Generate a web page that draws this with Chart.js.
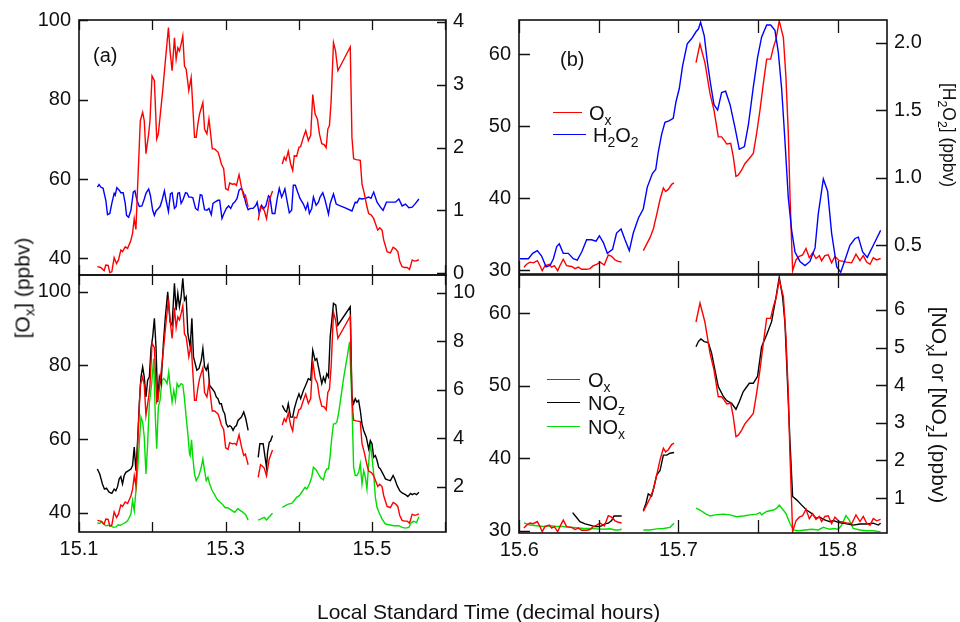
<!DOCTYPE html>
<html><head><meta charset="utf-8">
<script src="https://cdn.jsdelivr.net/npm/chart.js@4.4.1/dist/chart.umd.min.js"></script>
<style>
html,body{margin:0;padding:0;background:#fff;}
#wrap{position:relative;width:960px;height:622px;overflow:hidden;font-family:"Liberation Sans",Arial,sans-serif;color:#111;}
canvas{position:absolute;left:0;top:0;}
.t{position:absolute;white-space:nowrap;line-height:1;}
sub{font-size:0.7em;vertical-align:-0.35em;line-height:0;}
.lg{position:absolute;height:0;border-top:1.6px solid;}
</style></head><body>
<div id="wrap">
<canvas id="cTL" width="960" height="622"></canvas>
<canvas id="cBL" width="960" height="622"></canvas>
<canvas id="cTR" width="960" height="622"></canvas>
<canvas id="cBR" width="960" height="622"></canvas>

<div class="t" style="left:93px;top:55px;transform:translateY(-50%);font-size:20px">(a)</div>
<div class="t" style="left:560px;top:59px;transform:translateY(-50%);font-size:20px">(b)</div>

<div class="lg" style="left:553px;top:112px;width:29px;border-color:#ff0000"></div>
<div class="lg" style="left:553px;top:134px;width:33px;border-color:#0000ff"></div>
<div class="t" style="left:589px;top:113px;transform:translateY(-50%);font-size:20px">O<sub>x</sub></div>
<div class="t" style="left:593px;top:135px;transform:translateY(-50%);font-size:20px">H<sub>2</sub>O<sub>2</sub></div>

<div class="lg" style="left:547px;top:379px;width:33px;border-color:#ff0000"></div>
<div class="lg" style="left:547px;top:402px;width:33px;border-color:#000000"></div>
<div class="lg" style="left:547px;top:426px;width:33px;border-color:#00dd00"></div>
<div class="t" style="left:588px;top:380px;transform:translateY(-50%);font-size:20px">O<sub>x</sub></div>
<div class="t" style="left:588px;top:403px;transform:translateY(-50%);font-size:20px">NO<sub>z</sub></div>
<div class="t" style="left:588px;top:427px;transform:translateY(-50%);font-size:20px">NO<sub>x</sub></div>

<div class="t" style="left:22px;top:288px;transform:translate(-50%,-50%) rotate(-90deg);font-size:21px">[O<sub>x</sub>] (ppbv)</div>
<div class="t" style="left:948px;top:135px;transform:translate(-50%,-50%) rotate(90deg);font-size:17.5px">[H<sub>2</sub>O<sub>2</sub>] (ppbv)</div>
<div class="t" style="left:939px;top:405px;transform:translate(-50%,-50%) rotate(90deg);font-size:21px">[NO<sub>x</sub>] or [NO<sub>z</sub>] (ppbv)</div>
<div class="t" style="left:317px;top:611px;transform:translateY(-50%);font-size:21px">Local Standard Time (decimal hours)</div>
</div>
<script>
// ---------- tick values / labels ----------
const xTicksLeft = [15.1, 15.2, 15.3, 15.4, 15.5, 15.6];
const xLabelsLeft = ['15.1', '', '15.3', '', '15.5', ''];
const xTicksRight = [15.6, 15.65, 15.7, 15.75, 15.8];
const xLabelsRight = ['15.6', '', '15.7', '', '15.8'];
const tlLeftTicks = [40, 60, 80, 100];
const tlRightTicks = [0, 1, 2, 3, 4];
const blLeftTicks = [40, 60, 80, 100];
const blRightTicks = [2, 4, 6, 8, 10];
const trLeftTicks = [30, 40, 50, 60];
const trRightTicks = [0.5, 1.0, 1.5, 2.0];
const trRightLabels = ['0.5', '1.0', '1.5', '2.0'];
const brLeftTicks = [30, 40, 50, 60];
const brRightTicks = [1, 2, 3, 4, 5, 6];

// ---------- left panels: Ox (ppbv) ----------
const oxLeftT = [15.1251,15.1297,15.1343,15.1366,15.1398,15.1421,15.1448,15.1480,15.1512,15.1539,15.1571,15.1594,15.1631,15.1663,15.1695,15.1709,15.1731,15.1754,15.1777,15.1800,15.1837,15.1869,15.1891,15.1914,15.1951,15.1969,15.1997,15.2029,15.2061,15.2083,15.2106,15.2143,15.2179,15.2221,15.2243,15.2271,15.2303,15.2326,15.2349,15.2371,15.2394,15.2417,15.2440,15.2463,15.2499,15.2531,15.2554,15.2577,15.2600,15.2623,15.2646,15.2691,15.2714,15.2746,15.2774,15.2792,15.2819,15.2851,15.2897,15.2920,15.2943,15.2975,15.3002,15.3034,15.3057,15.3094,15.3126,15.3149,15.3185,15.3217,15.3249,15.3272,15.3309,
 15.338,
 15.3446,15.3478,15.3505,15.3528,15.3560,15.3597,15.3642,
 15.371,
 15.3775,15.3802,15.3825,15.3857,15.3889,15.3917,15.3939,15.3971,15.4003,15.4026,15.4063,15.4095,15.4131,15.4163,15.4191,15.4223,15.4255,15.4282,15.4314,15.4346,15.4374,15.4397,15.4419,15.4442,15.4474,15.4502,15.4534,15.4703,15.4726,15.4749,15.4785,15.4840,15.4863,15.4895,15.4931,15.4954,15.4991,15.5023,15.5046,15.5078,15.5105,15.5137,15.5160,15.5206,15.5251,15.5288,15.5320,15.5352,15.5379,15.5411,15.5443,15.5480,15.5512,15.5549,15.5580,15.5608,15.5640];
const oxLeftV = [37.9,37.7,36.9,38.3,38.2,36.4,36.6,40.2,38.7,39.6,42.1,41.7,42.9,42.5,43.9,44.6,46.3,50.0,47.3,58.0,74.7,76.8,74.7,66.4,71.4,74.7,86.0,84.8,70.1,71.4,75.6,82.3,89.8,98.2,92.3,87.3,95.6,90.2,93.1,92.3,94.0,96.1,88.5,87.7,82.3,85.6,78.1,70.5,70.5,73.9,76.4,79.3,72.6,71.4,75.1,72.2,67.6,67.6,66.8,65.5,63.8,62.6,57.6,57.2,59.0,58.7,58.8,58.4,61.1,58.0,55.5,55.9,53.0,
 null,
 49.6,53.0,52.6,52.1,50.0,54.6,57.0,
 null,
 63.8,65.5,64.7,67.0,63.8,62.2,65.9,65.7,68.0,68.2,70.5,72.2,69.7,71.0,81.3,76.4,75.1,71.4,68.9,68.7,67.9,72.6,73.5,79.7,94.4,92.3,87.3,93.3,70.5,65.1,64.9,64.7,58.8,56.3,53.0,51.3,50.9,50.0,48.8,47.1,47.7,47.1,44.6,41.7,41.4,42.8,42.4,41.7,39.2,37.9,37.7,37.7,37.2,39.6,39.3,39.4,39.7];

// ---------- left panel (a): H2O2 (ppbv) ----------
const h2o2LeftT = [15.1251,15.1274,15.1297,15.1329,15.1366,15.1389,15.1421,15.1448,15.1480,15.1494,15.1517,15.1549,15.1571,15.1603,15.1631,15.1649,15.1677,15.1709,15.1741,15.1763,15.1791,15.1823,15.1859,15.1891,15.1914,15.1951,15.1974,15.2006,15.2029,15.2051,15.2083,15.2106,15.2134,15.2166,15.2189,15.2221,15.2248,15.2271,15.2303,15.2326,15.2349,15.2371,15.2394,15.2417,15.2454,15.2477,15.2499,15.2531,15.2554,15.2591,15.2623,15.2655,15.2678,15.2714,15.2746,15.2774,15.2806,15.2829,15.2865,15.2897,15.2920,15.2952,15.2979,15.3011,15.3043,15.3071,15.3103,15.3126,15.3158,15.3185,15.3217,15.3249,15.3277,15.3309,15.3341,15.3377,15.3414,15.3432,15.3459,15.3491,15.3523,15.3551,15.3587,15.3606,15.3638,15.3674,15.3706,15.3734,15.3766,15.3789,15.3811,15.3843,15.3871,15.3903,15.3926,15.3953,15.3985,15.4017,15.4063,15.4095,15.4122,15.4145,15.4177,15.4200,15.4237,15.4269,15.4291,15.4328,15.4360,15.4406,15.4429,15.4474,15.4511,15.4566,15.4634,15.4726,15.4771,15.4794,15.4826,15.4863,15.4909,15.4954,15.4986,15.5023,15.5069,15.5114,15.5151,15.5197,15.5251,15.5320,15.5366,15.5411,15.5457,15.5503,15.5549,15.5594,15.5640];
const h2o2LeftV = [1.37,1.41,1.37,1.35,1.16,0.93,0.95,1.11,1.27,1.24,1.36,1.32,1.28,1.28,1.11,0.92,0.89,1.00,1.29,1.31,1.16,1.06,1.07,1.18,1.27,1.34,1.24,1.00,0.92,0.99,1.03,1.06,1.16,1.31,1.16,0.98,1.26,1.28,1.03,1.06,1.27,1.28,1.11,1.16,1.28,1.27,1.21,1.21,1.20,1.03,1.00,1.25,1.24,1.01,1.00,1.03,0.93,1.11,1.14,1.16,1.16,0.87,0.95,1.03,1.07,1.03,1.11,1.13,1.19,1.32,1.35,1.27,1.11,1.01,1.03,1.03,1.08,1.13,0.95,1.08,1.03,1.07,1.23,1.21,0.95,0.95,1.19,1.35,1.21,1.27,1.34,1.13,0.96,1.00,1.40,1.40,1.29,1.19,1.10,1.01,1.11,0.95,1.03,1.21,1.08,1.13,1.21,1.28,1.16,0.94,1.11,1.26,1.10,1.07,1.04,0.99,1.13,1.12,1.19,1.18,1.19,1.21,1.19,1.29,1.13,1.05,1.00,1.13,1.13,1.13,1.18,1.07,1.10,1.04,1.05,1.11,1.18];

// ---------- left panel (lower): NOz (ppbv) ----------
const nozLeftT = [15.1251,15.1283,15.1320,15.1347,15.1375,15.1411,15.1448,15.1480,15.1503,15.1526,15.1549,15.1571,15.1594,15.1617,15.1640,15.1677,15.1709,15.1731,15.1754,15.1777,15.1800,15.1823,15.1846,15.1869,15.1891,15.1914,15.1937,15.1960,15.1983,15.2006,15.2029,15.2051,15.2074,15.2097,15.2120,15.2152,15.2179,15.2211,15.2243,15.2271,15.2303,15.2326,15.2349,15.2371,15.2394,15.2417,15.2440,15.2463,15.2486,15.2518,15.2541,15.2563,15.2586,15.2609,15.2637,15.2669,15.2691,15.2714,15.2737,15.2760,15.2783,15.2819,15.2851,15.2874,15.2897,15.2920,15.2943,15.2966,15.2989,15.3011,15.3034,15.3057,15.3080,15.3103,15.3126,15.3149,15.3171,15.3194,15.3217,15.3249,15.3277,15.3309,
 15.338,
 15.3446,15.3469,15.3491,15.3514,15.3537,15.3560,15.3574,15.3597,15.3615,15.3642,
 15.371,
 15.3775,15.3811,15.3834,15.3857,15.3889,15.3917,15.3939,15.3971,15.4003,15.4026,15.4063,15.4095,15.4131,15.4163,15.4191,15.4223,15.4246,15.4282,15.4314,15.4337,15.4360,15.4383,15.4406,15.4429,15.4474,15.4506,15.4534,15.4703,15.4726,15.4749,15.4771,15.4794,15.4817,15.4840,15.4863,15.4886,15.4922,15.4954,15.4977,15.5000,15.5023,15.5046,15.5069,15.5091,15.5114,15.5151,15.5183,15.5215,15.5251,15.5288,15.5311,15.5343,15.5379,15.5411,15.5457,15.5489,15.5526,15.5549,15.5580,15.5608,15.5640];
const nozLeftV = [2.73,2.52,2.11,1.90,1.94,1.77,1.72,1.90,1.83,2.00,2.32,2.41,2.11,2.46,2.59,2.66,2.73,2.87,3.63,2.66,3.90,5.42,6.52,6.94,6.52,5.70,6.39,6.52,7.70,8.18,8.94,7.77,5.49,6.52,6.25,7.90,9.01,10.04,8.80,8.66,10.39,9.28,9.97,9.42,9.83,10.59,9.70,9.83,8.32,7.77,8.94,7.35,7.08,6.80,6.87,7.21,7.70,6.94,6.80,7.01,6.18,6.04,5.90,5.70,5.63,5.42,5.42,5.14,5.01,4.59,4.46,4.52,4.46,4.32,4.46,4.52,4.73,4.80,4.87,5.08,4.80,4.32,
 null,
 3.21,3.77,3.77,3.77,3.28,2.80,3.42,3.83,3.88,4.11,
 null,
 5.35,5.14,5.08,5.42,4.87,4.87,5.21,5.56,5.83,5.63,5.97,6.18,6.46,6.39,7.63,7.21,7.28,6.73,6.25,6.52,6.32,6.66,6.52,8.18,9.56,9.49,8.66,9.42,5.70,5.42,5.63,5.49,5.56,5.14,4.59,4.32,4.04,3.56,3.90,3.77,3.21,3.28,3.08,2.80,2.73,2.52,2.32,2.28,2.25,2.46,2.32,2.04,1.83,1.74,1.67,1.59,1.72,1.67,1.72,1.67,1.77];

// ---------- left panel (lower): NOx (ppbv) ----------
const noxLeftT = [15.1251,15.1283,15.1311,15.1334,15.1366,15.1402,15.1434,15.1466,15.1503,15.1535,15.1562,15.1594,15.1631,15.1663,15.1686,15.1709,15.1731,15.1754,15.1777,15.1800,15.1823,15.1846,15.1869,15.1891,15.1914,15.1937,15.1960,15.1992,15.2019,15.2042,15.2061,15.2083,15.2106,15.2134,15.2157,15.2179,15.2202,15.2225,15.2243,15.2271,15.2294,15.2317,15.2339,15.2362,15.2394,15.2417,15.2440,15.2463,15.2486,15.2509,15.2518,15.2536,15.2554,15.2577,15.2600,15.2637,15.2669,15.2691,15.2714,15.2737,15.2760,15.2783,15.2819,15.2851,15.2883,15.2920,15.2957,15.2993,15.3034,15.3080,15.3126,15.3149,15.3171,15.3194,15.3226,15.3249,15.3277,15.3309,
 15.338,
 15.3446,15.3478,15.3505,15.3528,15.3560,15.3597,15.3642,
 15.371,
 15.3775,15.3811,15.3857,15.3903,15.3935,15.3971,15.4008,15.4040,15.4086,15.4109,15.4145,15.4177,15.4200,15.4237,15.4269,15.4301,15.4337,15.4360,15.4383,15.4406,15.4429,15.4451,15.4474,15.4497,15.4520,15.4543,15.4566,15.4611,15.4657,15.4694,15.4726,15.4749,15.4771,15.4794,15.4817,15.4840,15.4863,15.4886,15.4909,15.4931,15.4954,15.4977,15.5000,15.5023,15.5046,15.5069,15.5105,15.5137,15.5183,15.5229,15.5297,15.5366,15.5411,15.5457,15.5503,15.5535,15.5571,15.5608,15.5640];
const noxLeftV = [0.50,0.48,0.57,0.46,0.39,0.41,0.37,0.33,0.33,0.43,0.40,0.46,0.52,0.59,0.73,0.87,1.42,1.01,1.83,2.66,3.77,4.87,4.66,4.04,2.52,3.77,5.42,6.25,7.28,4.87,3.56,5.28,5.56,6.39,6.46,6.39,6.25,6.73,6.18,5.49,5.97,5.56,6.25,6.11,6.25,6.21,5.63,4.87,4.18,3.35,3.28,3.93,3.21,2.52,2.25,2.46,2.80,3.14,2.66,2.25,2.39,2.11,1.83,1.67,1.49,1.38,1.28,1.14,1.12,1.03,0.94,1.03,1.10,1.03,0.97,0.91,0.83,0.62,
 null,
 0.62,0.66,0.70,0.73,0.63,0.76,0.90,
 null,
 1.14,1.21,1.28,1.31,1.42,1.56,1.63,1.77,1.97,1.90,2.11,2.39,2.80,2.69,2.52,2.36,2.28,2.59,2.73,2.73,3.28,4.04,4.59,4.59,4.66,5.01,5.49,6.46,7.28,7.97,5.42,2.80,2.46,2.46,2.59,2.94,2.11,2.66,2.39,1.90,2.94,3.83,3.21,2.52,1.56,1.14,0.87,0.66,0.46,0.43,0.39,0.39,0.32,0.29,0.32,0.52,0.57,0.52,0.76];

// ---------- right panels: Ox (ppbv) ----------
const oxRightT = [15.6029,15.6046,15.6067,15.6088,15.6113,15.6130,15.6144,15.6161,15.6188,15.6203,15.6220,15.6241,15.6255,15.6276,15.6297,15.6329,15.6350,15.6371,15.6392,15.6423,15.6444,15.6465,15.6486,15.6507,15.6534,15.6559,15.6580,15.6601,15.6622,15.6643,
 15.670,
 15.6779,15.6800,15.6821,15.6842,15.6863,15.6884,15.6905,15.6919,15.6936,15.6957,15.6972,
 15.704,
 15.7110,15.7135,15.7166,15.7198,15.7223,15.7250,15.7271,15.7288,15.7303,15.7328,15.7344,15.7361,15.7376,15.7397,15.7418,15.7445,15.7470,15.7491,15.7512,15.7533,15.7554,15.7579,15.7596,15.7613,15.7633,15.7659,15.7675,15.7690,15.7700,15.7717,15.7738,15.7759,15.7780,15.7801,15.7822,15.7843,15.7864,15.7885,15.7899,15.7920,15.7941,15.7962,15.7983,15.8010,15.8036,15.8056,15.8088,15.8115,15.8140,15.8161,15.8182,15.8203,15.8224,15.8245,15.8270];
const oxRightV = [30.4,30.8,31.1,31.0,31.3,30.6,29.9,30.6,30.8,30.4,30.6,29.9,30.6,31.5,30.6,30.5,30.2,30.4,30.1,30.1,30.2,30.6,30.8,31.1,30.7,32.1,31.9,31.4,31.2,31.1,
 null,
 32.7,33.6,34.5,35.7,37.7,39.8,41.4,40.9,41.2,41.9,42.1,
 null,
 58.8,61.4,58.8,54.5,52.2,48.5,48.5,48.0,47.5,47.6,45.8,43.0,43.2,43.9,44.8,45.5,46.2,49.0,52.2,55.9,59.3,59.3,60.9,62.1,64.6,62.3,56.8,49.0,40.7,29.9,31.4,31.9,32.1,33.0,31.7,32.4,31.6,32.0,31.3,32.0,32.1,31.0,31.9,31.3,31.2,31.1,31.0,32.2,31.3,32.0,31.1,30.8,31.7,31.4,31.6];

// ---------- right panel (b): H2O2 (ppbv) ----------
const h2o2RightT = [15.6004,15.6057,15.6084,15.6113,15.6140,15.6168,15.6193,15.6214,15.6235,15.6251,15.6276,15.6308,15.6339,15.6364,15.6392,15.6423,15.6454,15.6482,15.6503,15.6528,15.6553,15.6586,15.6611,15.6639,15.6664,15.6691,15.6716,15.6748,15.6779,15.6804,15.6836,15.6857,15.6873,15.6894,15.6915,15.6940,15.6967,15.6984,15.7005,15.7026,15.7055,15.7083,15.7110,15.7125,15.7139,15.7162,15.7181,15.7202,15.7223,15.7246,15.7271,15.7296,15.7324,15.7355,15.7382,15.7414,15.7439,15.7470,15.7497,15.7522,15.7554,15.7579,15.7606,15.7627,15.7648,15.7669,15.7690,15.7711,15.7732,15.7763,15.7795,15.7826,15.7858,15.7878,15.7910,15.7937,15.7962,15.7994,15.8019,15.8046,15.8077,15.8109,15.8130,15.8157,15.8186,15.8224,15.8270];
const h2o2RightV = [0.40,0.40,0.44,0.46,0.42,0.34,0.35,0.40,0.49,0.51,0.44,0.44,0.40,0.39,0.45,0.54,0.54,0.53,0.57,0.52,0.44,0.47,0.59,0.62,0.54,0.46,0.59,0.70,0.77,0.93,1.03,1.06,1.19,1.32,1.41,1.42,1.44,1.56,1.66,1.83,1.99,2.03,2.08,2.10,2.15,2.05,1.86,1.69,1.54,1.50,1.63,1.64,1.54,1.37,1.21,1.23,1.39,1.67,1.89,2.04,2.13,2.13,2.09,1.93,1.66,1.27,0.85,0.61,0.45,0.38,0.35,0.38,0.48,0.73,0.99,0.90,0.59,0.34,0.30,0.39,0.50,0.55,0.56,0.45,0.41,0.50,0.61];

// ---------- right panel (lower): NOz (ppbv) ----------
const nozRightT = [15.6335,15.6356,15.6381,15.6413,15.6444,15.6475,15.6496,15.6517,15.6538,15.6559,15.6580,15.6595,15.6622,15.6643,
 15.670,
 15.6779,15.6796,15.6810,15.6831,15.6846,15.6863,15.6884,15.6905,15.6926,15.6947,15.6972,
 15.704,
 15.7110,15.7125,15.7141,15.7162,15.7187,15.7208,15.7229,15.7250,15.7282,15.7303,15.7334,15.7361,15.7382,15.7407,15.7445,15.7470,15.7497,15.7522,15.7554,15.7585,15.7613,15.7633,15.7654,15.7669,15.7686,15.7700,15.7717,15.7742,15.7774,15.7805,15.7837,15.7864,15.7889,15.7910,15.7931,15.7952,15.7973,15.8004,15.8036,15.8056,15.8098,15.8140,15.8182,15.8224,15.8255,15.8270];
const nozRightV = [0.61,0.50,0.37,0.31,0.28,0.24,0.24,0.26,0.31,0.33,0.40,0.52,0.52,0.52,
 null,
 0.66,0.86,1.11,1.05,1.30,1.61,1.73,2.14,2.14,2.19,2.21,
 null,
 5.02,5.16,5.23,5.16,5.13,4.85,4.40,3.96,3.70,3.59,3.52,3.36,3.56,3.83,4.05,4.05,4.24,5.02,5.34,5.69,6.35,6.87,6.35,5.65,3.96,2.54,1.04,0.95,0.81,0.68,0.59,0.46,0.49,0.43,0.40,0.37,0.40,0.35,0.33,0.31,0.28,0.31,0.31,0.33,0.28,0.33];

// ---------- right panel (lower): NOx (ppbv) ----------
const noxRightT = [15.6029,15.6067,15.6109,15.6151,15.6193,15.6235,15.6276,15.6318,15.6360,15.6402,15.6444,15.6486,15.6528,15.6570,15.6601,15.6622,15.6643,
 15.670,
 15.6779,15.6821,15.6863,15.6905,15.6947,15.6972,
 15.704,
 15.7110,15.7135,15.7166,15.7198,15.7229,15.7282,15.7324,15.7365,15.7407,15.7449,15.7491,15.7512,15.7522,15.7554,15.7596,15.7617,15.7633,15.7654,15.7675,15.7700,15.7721,15.7753,15.7795,15.7837,15.7878,15.7910,15.7931,15.7952,15.7973,15.8004,15.8025,15.8052,15.8073,15.8098,15.8140,15.8182,15.8224,15.8270];
const noxRightV = [0.34,0.28,0.26,0.24,0.26,0.24,0.24,0.22,0.21,0.19,0.19,0.18,0.17,0.18,0.15,0.15,0.17,
 null,
 0.15,0.15,0.18,0.19,0.22,0.33,
 null,
 0.73,0.68,0.59,0.52,0.55,0.57,0.55,0.50,0.52,0.55,0.57,0.61,0.55,0.64,0.68,0.73,0.81,0.70,0.59,0.33,0.15,0.13,0.15,0.17,0.15,0.22,0.19,0.17,0.19,0.17,0.28,0.53,0.41,0.19,0.15,0.13,0.13,0.10];

// ---------- drawing ----------
const FF = "'Liberation Sans', Arial, sans-serif";
const RED = '#ff0000', BLUE = '#0000ff', BLACK = '#000000', GREEN = '#00dd00';

function pts(xs, ys) { return xs.map((x, i) => ({ x: x, y: ys[i] })); }
function series(label, xs, ys, color, axis) {
  return { label: label, data: pts(xs, ys), borderColor: color, backgroundColor: color,
    borderWidth: 1.4, pointRadius: 0, tension: 0, spanGaps: false, yAxisID: axis };
}

const frameTicks = {
  id: 'frameTicks',
  afterDatasetsDraw(chart, args, o) {
    const ctx = chart.ctx, a = chart.chartArea, s = chart.scales;
    ctx.save();
    ctx.strokeStyle = '#111';
    ctx.lineWidth = 1.3;
    ctx.beginPath();
    s.x.ticks.forEach(t => {
      const p = Math.round(s.x.getPixelForValue(t.value)) + 0.5;
      ctx.moveTo(p, a.top); ctx.lineTo(p, a.top + o.xLen);
      ctx.moveTo(p, a.bottom); ctx.lineTo(p, a.bottom - o.xLen);
    });
    s.yL.ticks.forEach(t => {
      const p = Math.round(s.yL.getPixelForValue(t.value)) + 0.5;
      ctx.moveTo(a.left, p); ctx.lineTo(a.left + o.yLen, p);
    });
    s.yR.ticks.forEach(t => {
      const p = Math.round(s.yR.getPixelForValue(t.value)) + 0.5;
      ctx.moveTo(a.right, p); ctx.lineTo(a.right - o.yLen, p);
    });
    ctx.stroke();
    ctx.lineWidth = 1.6;
    ctx.strokeRect(a.left, a.top, a.right - a.left, a.bottom - a.top);
    ctx.restore();
  }
};

function axisY(pos, min, max, ticks, labels, width, pad) {
  return {
    type: 'linear', position: pos, min: min, max: max,
    afterBuildTicks: sc => { sc.ticks = ticks.map(v => ({ value: v })); },
    afterFit: sc => { sc.width = width; },
    grid: { display: false, drawTicks: false }, border: { display: false },
    ticks: { padding: pad, color: '#111', font: { family: FF, size: 20 },
      callback: (v, i) => labels ? labels[i] : String(ticks[i]) }
  };
}

function panel(id, area, xr, yl, yr, datasets, tl) {
  const WL = 75, WR = 70, HX = 40;
  return new Chart(document.getElementById(id), {
    type: 'line',
    data: { datasets: datasets },
    options: {
      responsive: false, animation: false, events: [],
      layout: { padding: { left: area[0] - WL, top: area[1], right: 960 - area[2] - WR, bottom: 622 - area[3] - HX } },
      plugins: { legend: { display: false }, tooltip: { enabled: false }, frameTicks: { xLen: tl[0], yLen: tl[1] } },
      scales: {
        x: {
          type: 'linear', min: xr.min, max: xr.max,
          afterBuildTicks: sc => { sc.ticks = xr.ticks.map(v => ({ value: v })); },
          afterFit: sc => { sc.height = HX; },
          grid: { display: false, drawTicks: false }, border: { display: false },
          ticks: { display: xr.show, autoSkip: false, maxRotation: 0, padding: 5, color: '#111',
            font: { family: FF, size: 20 }, callback: (v, i) => xr.labels[i] }
        },
        yL: axisY('left', yl.min, yl.max, yl.ticks, yl.labels, WL, 8),
        yR: axisY('right', yr.min, yr.max, yr.ticks, yr.labels, WR, 7)
      }
    },
    plugins: [frameTicks]
  });
}

// (a) upper left: Ox & H2O2
panel('cTL', [79, 19, 446, 275],
  { min: 15.1, max: 15.601, ticks: xTicksLeft, labels: xLabelsLeft, show: false },
  { min: 35.8, max: 100.1, ticks: tlLeftTicks },
  { min: -0.03, max: 4.03, ticks: tlRightTicks },
  [ series('Ox', oxLeftT, oxLeftV, RED, 'yL'),
    series('H2O2', h2o2LeftT, h2o2LeftV, BLUE, 'yR') ],
  [10, 9]);

// lower left: Ox, NOz, NOx
panel('cBL', [79, 275, 446, 532],
  { min: 15.1, max: 15.601, ticks: xTicksLeft, labels: xLabelsLeft, show: true },
  { min: 34.76, max: 104.5, ticks: blLeftTicks },
  { min: 0.13, max: 10.73, ticks: blRightTicks },
  [ series('Ox', oxLeftT, oxLeftV, RED, 'yL'),
    series('NOz', nozLeftT, nozLeftV, BLACK, 'yR'),
    series('NOx', noxLeftT, noxLeftV, GREEN, 'yR') ],
  [10, 9]);

// (b) upper right: Ox & H2O2
panel('cTR', [519, 18, 887, 274],
  { min: 15.5998, max: 15.831, ticks: xTicksRight, labels: xLabelsRight, show: false },
  { min: 29.45, max: 64.73, ticks: trLeftTicks },
  { min: 0.287, max: 2.167, ticks: trRightTicks, labels: trRightLabels },
  [ series('H2O2', h2o2RightT, h2o2RightV, BLUE, 'yR'),
    series('Ox', oxRightT, oxRightV, RED, 'yL') ],
  [13, 11]);

// lower right: Ox, NOz, NOx
panel('cBR', [519, 275, 887, 533],
  { min: 15.5998, max: 15.831, ticks: xTicksRight, labels: xLabelsRight, show: true },
  { min: 29.72, max: 65.28, ticks: brLeftTicks },
  { min: 0.069, max: 6.93, ticks: brRightTicks },
  [ series('Ox', oxRightT, oxRightV, RED, 'yL'),
    series('NOz', nozRightT, nozRightV, BLACK, 'yR'),
    series('NOx', noxRightT, noxRightV, GREEN, 'yR') ],
  [13, 11]);
</script>
</body></html>
